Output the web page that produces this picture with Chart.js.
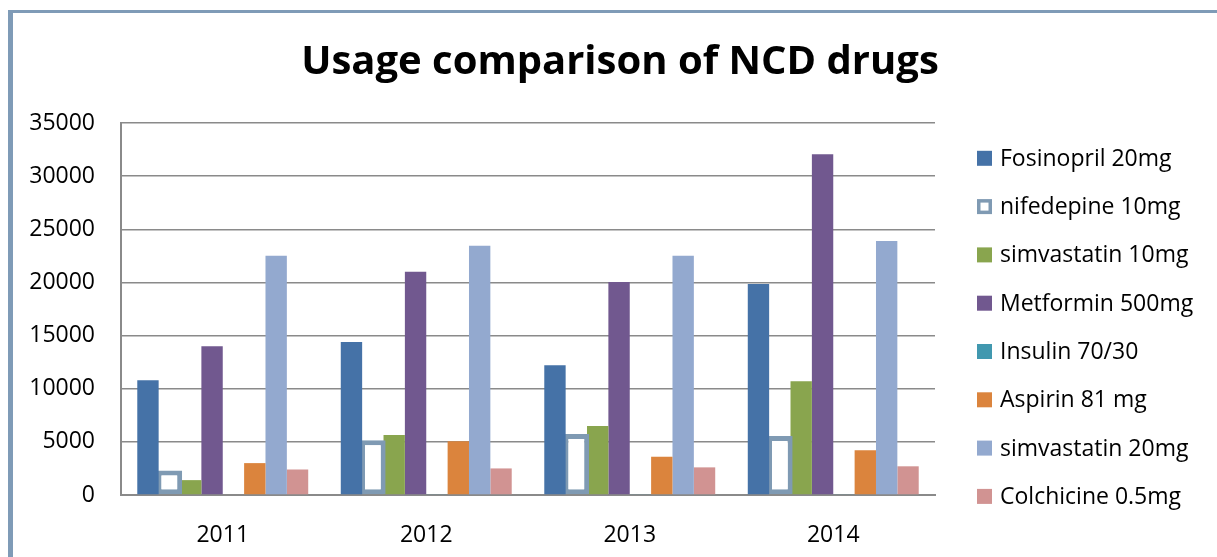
<!DOCTYPE html>
<html>
<head>
<meta charset="utf-8">
<script src="https://cdn.jsdelivr.net/npm/chart.js@4.4.0/dist/chart.umd.min.js"></script>
<style>
    html, body { margin: 0; padding: 0; background: #fff; }
    body { width: 1217px; height: 557px; position: relative; overflow: hidden; }
    #frame {
        position: absolute; left: 8px; top: 10px;
        width: 1300px; height: 700px;
        border: 3px solid #7f9bb7; border-left-width: 5px; box-sizing: border-box;
    }
    #wrap { position: absolute; left: 0; top: 0; width: 1217px; height: 557px; }
</style>
</head>
<body>
<div id="frame"></div>
<div id="wrap"><canvas id="chart" width="1217" height="557"></canvas></div>
<script>
// Categories
const years = ['2011', '2012', '2013', '2014'];

// Series values
const fosinopril    = [10800, 14400, 12200, 19850];
const nifedepine    = [2300, 5150, 5750, 5550];
const simvastatin10 = [1400, 5650, 6500, 10700];
const metformin     = [14000, 21000, 20050, 32050];
const insulin       = [0, 60, 60, 60];
const aspirin       = [3000, 5050, 3600, 4200];
const simvastatin20 = [22500, 23450, 22500, 23900];
const colchicine    = [2400, 2500, 2600, 2700];

// Axis
const yMax = 35000;
const yStep = 5000;

const titleText = 'Usage comparison of NCD drugs';
const FONT = "'Open Sans', 'DejaVu Sans', sans-serif";

// Draws the title and the right-hand legend
const decorPlugin = {
    id: 'decor',
    afterDraw(chart) {
        const ctx = chart.ctx;
        ctx.save();
        ctx.fillStyle = '#000';
        ctx.font = 'bold 40px ' + FONT;
        ctx.textAlign = 'center';
        ctx.textBaseline = 'middle';
        ctx.fillText(titleText, 620, 63);

        ctx.font = '23px ' + FONT;
        ctx.textAlign = 'left';
        chart.data.datasets.forEach((ds, i) => {
            const cy = 158.3 + i * 48.3;
            const bx = 977, by = cy - 7.5, size = 15;
            if (ds.hollow) {
                ctx.fillStyle = ds.borderColor;
                ctx.fillRect(bx, by, size, size);
                ctx.fillStyle = '#fff';
                ctx.fillRect(bx + 3.5, by + 3.5, size - 7, size - 7);
            } else {
                ctx.fillStyle = ds.backgroundColor;
                ctx.fillRect(bx, by, size, size);
            }
            ctx.fillStyle = '#000';
            ctx.fillText(ds.label, 1000, cy + 1);
        });
        ctx.restore();
    }
};

function bar(label, data, color) {
    return {
        label: label,
        data: data,
        backgroundColor: color,
        borderColor: color,
        borderWidth: 0
    };
}

const datasets = [
    bar('Fosinopril 20mg', fosinopril, '#4572a7'),
    {
        label: 'nifedepine 10mg',
        data: nifedepine,
        backgroundColor: '#ffffff',
        borderColor: '#7f9ab3',
        borderWidth: 5,
        borderSkipped: false,
        barPercentage: 1.2,
        hollow: true
    },
    bar('simvastatin 10mg', simvastatin10, '#89a54e'),
    bar('Metformin 500mg', metformin, '#71588f'),
    bar('Insulin 70/30', insulin, '#4198af'),
    bar('Aspirin 81 mg', aspirin, '#db843d'),
    bar('simvastatin 20mg', simvastatin20, '#93a9cf'),
    bar('Colchicine 0.5mg', colchicine, '#d19392')
];

const ctx = document.getElementById('chart').getContext('2d');
new Chart(ctx, {
    type: 'bar',
    data: { labels: years, datasets: datasets },
    options: {
        responsive: false,
        animation: false,
        devicePixelRatio: 1,
        layout: { padding: { top: 123, right: 282, bottom: 0, left: 0 } },
        datasets: {
            bar: { categoryPercentage: 0.84, barPercentage: 1.0 }
        },
        plugins: {
            legend: { display: false },
            title: { display: false },
            tooltip: { enabled: false }
        },
        scales: {
            x: {
                grid: { display: false },
                border: { display: true, color: '#8a8a8a', width: 2 },
                ticks: { color: '#000', font: { family: FONT, size: 23 }, padding: 19 },
                afterFit(scale) { scale.height = 62; }
            },
            y: {
                min: 0,
                max: yMax,
                ticks: {
                    stepSize: yStep,
                    color: '#000',
                    font: { family: FONT, size: 23 },
                    padding: 26,
                    callback: value => String(value)
                },
                grid: { color: '#8a8a8a', lineWidth: 1.5, drawTicks: false },
                border: { display: true, color: '#8a8a8a', width: 2 },
                afterFit(scale) { scale.width = 121; }
            }
        }
    },
    plugins: [decorPlugin]
});
</script>
</body>
</html>
